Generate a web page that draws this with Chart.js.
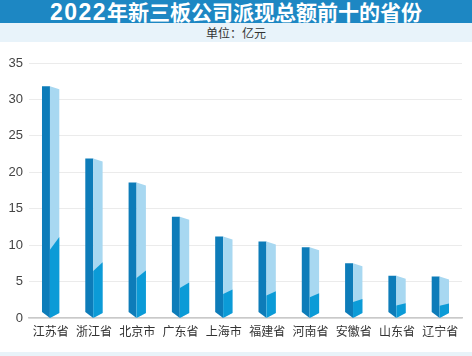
<!DOCTYPE html>
<html>
<head>
<meta charset="utf-8">
<script src="https://cdn.jsdelivr.net/npm/chart.js@4"></script>
<style>
  html, body { margin: 0; padding: 0; background: #ffffff; }
  body { width: 472px; height: 356px; position: relative; overflow: hidden; font-family: "Noto Sans CJK SC", "Noto Sans", sans-serif; }
  #title { position: absolute; left: 0; top: 0; width: 472px; height: 23px; background: #1d87c3; color: #ffffff;
           font: bold 21px "Noto Sans CJK SC", sans-serif; line-height: 23px; text-align: center; }
  #title .num { font-family: "Liberation Sans", sans-serif; font-size: 23px; letter-spacing: 1.5px; }
  #unit { position: absolute; left: 0; top: 23px; width: 472px; height: 19px; background: #e8f3fa; color: #333333;
          font: 12px "Noto Sans CJK SC", sans-serif; line-height: 19px; text-align: center; }
  #wrap { position: absolute; left: 0; top: 42px; width: 472px; height: 310px; }
  #foot { position: absolute; left: 0; top: 352px; width: 472px; height: 4px; background: #e8f3f9; }
</style>
</head>
<body>
<div id="title"><span class="num">2022</span>年新三板公司派现总额前十的省份</div>
<div id="unit">单位：亿元</div>
<div id="wrap"><canvas id="c" width="472" height="310"></canvas></div>
<div id="foot"></div>
<script>
const categories = ["江苏省", "浙江省", "北京市", "广东省", "上海市", "福建省", "河南省", "安徽省", "山东省", "辽宁省"];
const values = [31.8, 21.9, 18.6, 13.9, 11.2, 10.5, 9.7, 7.5, 5.8, 5.7];
const yMin = 0, yMax = 35, yStep = 5;

const DARK = "#0d7cb9", MEDIUM = "#0b9bd7", LIGHT = "#a8d8f1";

const prismPlugin = {
  id: "prism",
  afterDatasetsDraw(chart) {
    const ctx = chart.ctx;
    const yScale = chart.scales.y;
    const base = yScale.getPixelForValue(0);
    const meta = chart.getDatasetMeta(0);
    const vals = chart.data.datasets[0].data;
    meta.data.forEach((bar, i) => {
      const p = bar.getProps(["x", "y", "width"], true);
      const left = p.x - p.width / 2, right = p.x + p.width / 2;
      const mid = left + p.width * 0.46;
      const top = p.y;
      const v = vals[i];
      const yLow = yScale.getPixelForValue(v * 0.295);
      const yHigh = yScale.getPixelForValue(v * 0.35);
      ctx.save();
      ctx.fillStyle = DARK;
      ctx.beginPath();
      ctx.moveTo(left, top);
      ctx.lineTo(mid, top);
      ctx.lineTo(mid, base);
      ctx.lineTo(left, base - 6);
      ctx.closePath();
      ctx.fill();
      ctx.fillStyle = LIGHT;
      ctx.beginPath();
      ctx.moveTo(mid, top);
      ctx.lineTo(right, top + 3);
      ctx.lineTo(right, base - 5);
      ctx.lineTo(mid, base);
      ctx.closePath();
      ctx.fill();
      ctx.fillStyle = MEDIUM;
      ctx.beginPath();
      ctx.moveTo(mid, yLow);
      ctx.lineTo(right, yHigh);
      ctx.lineTo(right, base - 5);
      ctx.lineTo(mid, base);
      ctx.closePath();
      ctx.fill();
      ctx.restore();
    });
  }
};

new Chart(document.getElementById("c"), {
  type: "bar",
  data: {
    labels: categories,
    datasets: [{
      data: values,
      backgroundColor: "rgba(0,0,0,0)",
      borderWidth: 0,
      categoryPercentage: 1.0,
      barPercentage: 0.4
    }]
  },
  options: {
    responsive: false,
    animation: false,
    devicePixelRatio: 1,
    layout: { padding: { top: 21, right: 10, left: 0, bottom: 0 } },
    plugins: { legend: { display: false }, tooltip: { enabled: false }, title: { display: false } },
    scales: {
      x: {
        grid: { display: false, drawTicks: false },
        border: { display: true, color: "#c9c9c9", width: 1.5 },
        ticks: { color: "#333333", font: { family: "Noto Sans CJK SC", size: 12 }, padding: 6, maxRotation: 0, autoSkip: false },
        afterFit(s) { s.height = 34; }
      },
      y: {
        min: yMin, max: yMax,
        grid: { color: "#ebebeb", lineWidth: 1, drawTicks: false },
        border: { display: false },
        ticks: { stepSize: yStep, color: "#444444", font: { family: "Liberation Sans", size: 13 }, padding: 6 },
        afterFit(s) { s.width = 29; }
      }
    }
  },
  plugins: [prismPlugin]
});
</script>
</body>
</html>
